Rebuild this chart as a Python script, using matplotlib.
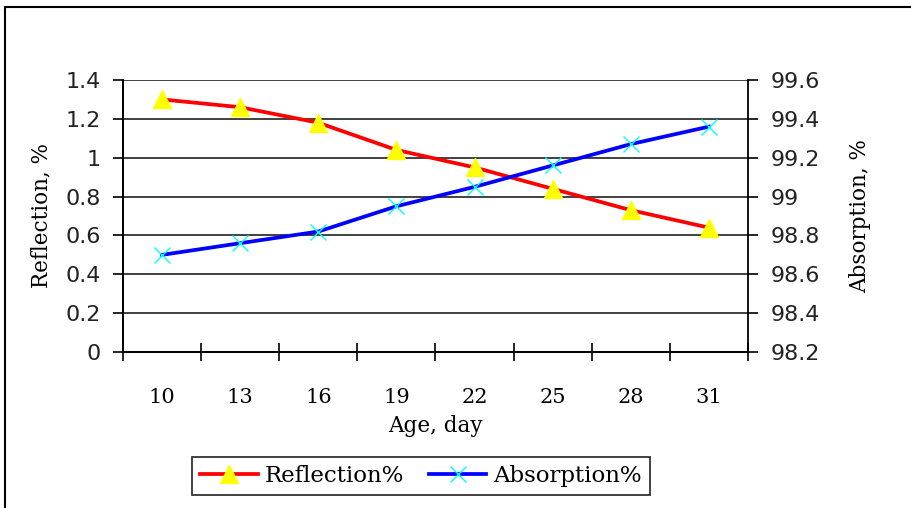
import matplotlib
matplotlib.use("Agg")
import matplotlib.pyplot as plt
from matplotlib.patches import Rectangle
import numpy as np

ages = ["10", "13", "16", "19", "22", "25", "28", "31"]
reflection = [1.30, 1.26, 1.18, 1.04, 0.95, 0.84, 0.73, 0.64]
absorption = [98.70, 98.76, 98.82, 98.95, 99.05, 99.16, 99.27, 99.36]

SERIF = "DejaVu Serif"
SANS = "DejaVu Sans"

fig = plt.figure(figsize=(9.11, 5.08), dpi=100)
W, H = 911, 508
# outer chart frame (right/bottom edges fall outside the picture)
fig.patches.append(Rectangle((5 / W, -0.1), 1.2, 1 - 7 / H + 0.1, transform=fig.transFigure,
                             fill=False, ec="black", lw=1.5))

ax = fig.add_axes([123 / W, 1 - 352 / H, (748 - 123) / W, (352 - 80) / H])
ax2 = ax.twinx()

x = np.arange(len(ages))
ax.set_xlim(-0.5, len(ages) - 0.5)
ax.set_ylim(0, 1.4)
ax2.set_ylim(98.2, 99.6)
ax.set_yticks(np.arange(0, 1.41, 0.2))
ax.set_yticklabels(["0", "0.2", "0.4", "0.6", "0.8", "1", "1.2", "1.4"])
ax2.set_yticks(np.arange(98.2, 99.61, 0.2))
ax2.set_yticklabels(["98.2", "98.4", "98.6", "98.8", "99", "99.2", "99.4", "99.6"])

ax.yaxis.grid(True, color="#333333", lw=1.3)
ax.set_axisbelow(True)

for a in (ax, ax2):
    a.spines["top"].set_visible(False)
    for s in ("left", "right", "bottom"):
        a.spines[s].set_linewidth(1.3)
ax.spines["right"].set_visible(False)

# category ticks between categories, labels at centers
ax.set_xticks(np.arange(-0.5, len(ages)), minor=False)
ax.set_xticklabels([])
ax.set_xticks(x, minor=True)
ax.set_xticklabels(ages, minor=True, fontfamily=SERIF, fontsize=15)
ax.tick_params(axis="x", which="major", direction="inout", length=13, width=1.2)
ax.tick_params(axis="x", which="minor", length=0, pad=26)
ax.tick_params(axis="y", direction="out", length=7, width=1.2, pad=9)
ax2.tick_params(axis="y", direction="out", length=7, width=1.2, pad=9)
for lab in ax.get_yticklabels() + ax2.get_yticklabels():
    lab.set_fontfamily(SANS)
    lab.set_fontsize(16)
    lab.set_color("#222222")

l1, = ax.plot(x, reflection, color="red", lw=2.7, marker="^", ms=13,
              mfc="yellow", mec="yellow", label="Reflection%", zorder=3)
l2, = ax2.plot(x, absorption, color="blue", lw=2.7, marker="x", ms=12,
               mec="cyan", mew=1.0, label="Absorption%", zorder=3)

ax.set_xlabel("Age, day", fontfamily=SERIF, fontsize=15.5, labelpad=6)
ax.set_ylabel("Reflection, %", fontfamily=SERIF, fontsize=15.5, labelpad=9)
ax2.set_ylabel("Absorption, %", fontfamily=SERIF, fontsize=15.5, labelpad=21)

leg = fig.legend(handles=[l1, l2], loc="center", bbox_to_anchor=(421 / W, 1 - 476 / H),
                 ncol=2, frameon=True, fancybox=False, edgecolor="black",
                 prop={"family": SERIF, "size": 16.5}, handlelength=2.5,
                 handletextpad=0.3, columnspacing=1.1, borderpad=0.35)
leg.get_frame().set_linewidth(1.3)

fig.savefig("out.png", dpi=100)
